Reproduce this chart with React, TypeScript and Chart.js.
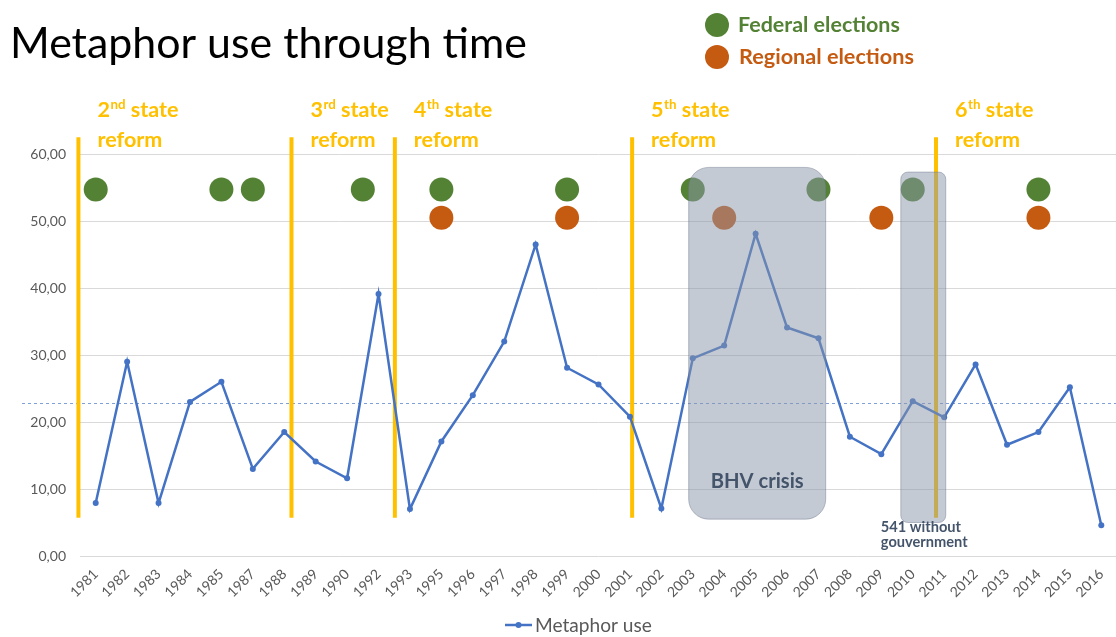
import React, { useEffect, useRef } from 'react';
import { Chart, registerables } from 'chart.js';
Chart.register(...registerables);

const years = ['1981','1982','1983','1984','1985','1987','1988','1989','1990','1992','1993','1995','1996','1997','1998','1999','2000','2001','2002','2003','2004','2005','2006','2007','2008','2009','2010','2011','2012','2013','2014','2015','2016'];
const metaphorUse = [7.9,29.0,7.9,23.0,26.0,13.0,18.5,14.1,11.6,39.1,7.0,17.1,24.0,32.0,46.5,28.1,25.6,20.8,7.1,29.5,31.4,48.1,34.1,32.5,17.8,15.2,23.1,20.7,28.6,16.6,18.5,25.2,4.6];
const seriesName = 'Metaphor use';
const averageLevel = 22.8;

const federalElections = [1981, 1985, 1987, 1991, 1995, 1999, 2003, 2007, 2010, 2014];
const regionalElections = [1995, 1999, 2004, 2009, 2014];
const federalLevel = 54.7;
const regionalLevel = 50.5;

const reformNumbers = ['2', '3', '4', '5', '6'];
const reformSuffixes = ['nd', 'rd', 'th', 'th', 'th'];
const reformYears = [1980.45, 1988.23, 1992.52, 2001.07, 2010.74];
const reformRange = [5.7, 62.5];

const periodLabels = ['BHV crisis', '541 without|gouvernment'];
const periodStart = [2002.87, 2009.62];
const periodEnd = [2007.23, 2011.05];
const periodTop = [58.0, 57.3];
const periodBottom = [5.5, 5.0];

const YELLOW = '#FFC000';
const GREEN = '#548235';
const ORANGE = '#C55A11';
const BLUE = '#4472C4';
const SLATE = '#44546A';
const FONT = 'Lato, "Open Sans", sans-serif';

function yearToIndex(y: number): number {
  const n = years.map(Number);
  if (y <= n[0]) return y - n[0];
  const last = n.length - 1;
  if (y >= n[last]) return last + (y - n[last]);
  for (let i = 0; i < last; i++) {
    if (y >= n[i] && y <= n[i + 1]) return i + (y - n[i]) / (n[i + 1] - n[i]);
  }
  return 0;
}

function fitFont(ctx: CanvasRenderingContext2D, text: string, weight: string, target: number): number {
  ctx.font = `${weight} 100px ${FONT}`;
  const w = ctx.measureText(text).width;
  return (100 * target) / w;
}

const overlayPlugin = {
  id: 'overlay',
  beforeDatasetsDraw(chart: any) {
    const { ctx, chartArea, scales } = chart;
    const xs = scales.x, ys = scales.y;
    ctx.save();
    ctx.strokeStyle = '#7F9FD8';
    ctx.lineWidth = 1;
    ctx.setLineDash([3, 3]);
    const ay = Math.round(ys.getPixelForValue(averageLevel)) + 0.5;
    ctx.beginPath();
    ctx.moveTo(22, ay);
    ctx.lineTo(chartArea.right, ay);
    ctx.stroke();
    ctx.setLineDash([]);
    ctx.strokeStyle = YELLOW;
    ctx.lineWidth = 4;
    reformYears.forEach((yr) => {
      const x = xs.getPixelForValue(yearToIndex(yr));
      ctx.beginPath();
      ctx.moveTo(x, ys.getPixelForValue(reformRange[1]));
      ctx.lineTo(x, ys.getPixelForValue(reformRange[0]));
      ctx.stroke();
    });
    ctx.restore();
  },
  afterDatasetsDraw(chart: any) {
    const { ctx, scales } = chart;
    const xs = scales.x, ys = scales.y;
    ctx.save();
    const dot = (yr: number, lvl: number, color: string) => {
      ctx.beginPath();
      ctx.fillStyle = color;
      ctx.arc(xs.getPixelForValue(yearToIndex(yr)), ys.getPixelForValue(lvl), 12, 0, Math.PI * 2);
      ctx.fill();
    };
    federalElections.forEach((y) => dot(y, federalLevel, GREEN));
    regionalElections.forEach((y) => dot(y, regionalLevel, ORANGE));

    periodLabels.forEach((label, i) => {
      const x1 = xs.getPixelForValue(yearToIndex(periodStart[i]));
      const x2 = xs.getPixelForValue(yearToIndex(periodEnd[i]));
      const y1 = ys.getPixelForValue(periodTop[i]);
      const y2 = ys.getPixelForValue(periodBottom[i]);
      const r = i === 0 ? 20 : 7;
      ctx.beginPath();
      (ctx as any).roundRect(x1, y1, x2 - x1, y2 - y1, r);
      ctx.fillStyle = 'rgba(138,149,170,0.5)';
      ctx.fill();
      ctx.strokeStyle = 'rgba(110,120,140,0.45)';
      ctx.lineWidth = 1;
      ctx.stroke();
      ctx.fillStyle = SLATE;
      ctx.textBaseline = 'alphabetic';
      if (i === 0) {
        const s = fitFont(ctx, label, 'bold', 93);
        ctx.font = `bold ${s}px ${FONT}`;
        ctx.textAlign = 'center';
        ctx.fillText(label, (x1 + x2) / 2, y2 - 31);
      } else {
        const lines = label.split('|');
        const s = fitFont(ctx, lines[1], 'bold', 87);
        ctx.font = `bold ${s}px ${FONT}`;
        ctx.textAlign = 'left';
        ctx.fillText(lines[0], x1 - 20, y2 + 9.5);
        ctx.fillText(lines[1], x1 - 20, y2 + 24.5);
      }
    });
    ctx.restore();
  },
  afterDraw(chart: any) {
    const { ctx, chartArea, scales } = chart;
    const xs = scales.x;
    ctx.save();
    ctx.textBaseline = 'alphabetic';
    ctx.textAlign = 'left';
    const ts = fitFont(ctx, 'Metaphor use through time', 'normal', 517);
    ctx.font = `normal ${ts}px ${FONT}`;
    ctx.fillStyle = '#000';
    ctx.fillText('Metaphor use through time', 10, 58);

    ctx.beginPath();
    ctx.fillStyle = GREEN;
    ctx.arc(717, 25, 12, 0, Math.PI * 2);
    ctx.fill();
    ctx.beginPath();
    ctx.fillStyle = ORANGE;
    ctx.arc(717, 57, 12, 0, Math.PI * 2);
    ctx.fill();
    let s = fitFont(ctx, 'Federal elections', 'bold', 162);
    ctx.font = `bold ${s}px ${FONT}`;
    ctx.fillStyle = GREEN;
    ctx.fillText('Federal elections', 738, 32);
    s = fitFont(ctx, 'Regional elections', 'bold', 175);
    ctx.font = `bold ${s}px ${FONT}`;
    ctx.fillStyle = ORANGE;
    ctx.fillText('Regional elections', 739, 63.5);

    const rs = fitFont(ctx, 'reform', 'bold', 65);
    reformYears.forEach((yr, i) => {
      const x = xs.getPixelForValue(yearToIndex(yr)) + 19;
      const b1 = chartArea.top - 37;
      const b2 = chartArea.top - 7;
      ctx.fillStyle = YELLOW;
      ctx.font = `bold ${rs}px ${FONT}`;
      ctx.fillText(reformNumbers[i], x, b1);
      let cx = x + ctx.measureText(reformNumbers[i]).width;
      ctx.font = `bold ${rs * 0.62}px ${FONT}`;
      ctx.fillText(reformSuffixes[i], cx + 0.5, b1 - rs * 0.36);
      cx += ctx.measureText(reformSuffixes[i]).width + 0.5;
      ctx.font = `bold ${rs}px ${FONT}`;
      ctx.fillText(' state', cx, b1);
      ctx.fillText('reform', x, b2);
    });

    // bottom legend
    const ly = 625;
    ctx.strokeStyle = BLUE;
    ctx.lineWidth = 2.5;
    ctx.beginPath();
    ctx.moveTo(505, ly);
    ctx.lineTo(532, ly);
    ctx.stroke();
    ctx.fillStyle = BLUE;
    ctx.beginPath();
    ctx.arc(518.5, ly, 3, 0, Math.PI * 2);
    ctx.fill();
    const ls = fitFont(ctx, seriesName, 'normal', 117);
    ctx.font = `normal ${ls}px ${FONT}`;
    ctx.fillStyle = '#595959';
    ctx.textBaseline = 'middle';
    ctx.fillText(seriesName, 535, ly + 0.5);
    ctx.restore();
  },
};

export default function App() {
  const ref = useRef<HTMLCanvasElement | null>(null);
  useEffect(() => {
    const canvas = ref.current;
    if (!canvas) return;
    const chart = new Chart(canvas, {
      type: 'line',
      data: {
        labels: years,
        datasets: [
          {
            label: seriesName,
            data: metaphorUse,
            borderColor: BLUE,
            backgroundColor: BLUE,
            borderWidth: 2.5,
            pointRadius: 3,
            pointBorderWidth: 0,
            pointBackgroundColor: BLUE,
            tension: 0,
          },
        ],
      },
      options: {
        responsive: false,
        animation: false,
        layout: { padding: { top: 154, left: 0, right: 0, bottom: 22 } },
        scales: {
          x: {
            offset: true,
            grid: { display: false, drawTicks: false },
            border: { display: false },
            ticks: {
              color: '#595959',
              font: { family: FONT, size: 14 },
              minRotation: 45,
              maxRotation: 45,
              autoSkip: false,
              padding: 10,
            },
            afterFit: (s: any) => {
              s.height = 59;
              s.paddingLeft = 0;
              s.paddingRight = 0;
            },
          },
          y: {
            min: 0,
            max: 60,
            grid: { color: '#D9D9D9', lineWidth: 1, drawTicks: false },
            border: { display: false },
            ticks: {
              stepSize: 10,
              color: '#595959',
              font: { family: FONT, size: 14 },
              padding: 14,
              callback: (v: any) => Number(v).toFixed(2).replace('.', ','),
            },
            afterFit: (s: any) => { s.width = 80; },
          },
        },
        plugins: {
          legend: { display: false },
          tooltip: { enabled: false },
        },
      },
      plugins: [overlayPlugin],
    } as any);
    return () => chart.destroy();
  }, []);
  return (
    <div style={{ position: 'fixed', left: 0, top: 0, width: 1116, height: 637, background: '#fff', overflow: 'hidden' }}>
      <canvas ref={ref} width={1121} height={637} style={{ display: 'block' }} />
    </div>
  );
}
